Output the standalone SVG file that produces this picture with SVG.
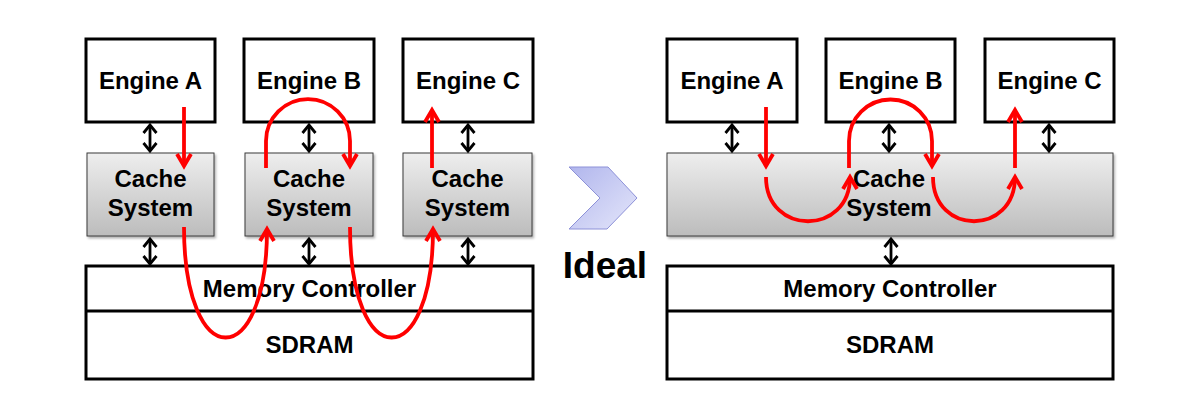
<svg xmlns="http://www.w3.org/2000/svg" width="1200" height="400" viewBox="0 0 1200 400">
<style>
.box{fill:#fff;stroke:#000;stroke-width:3}
.cache{fill:url(#cg);stroke:#3a3a3a;stroke-width:1;filter:url(#sh)}
.t{font-family:"Liberation Sans",Arial,sans-serif;font-weight:bold;font-size:24px;fill:#000;text-anchor:middle}
.bi{stroke:#000;stroke-width:2.8;fill:none;marker-start:url(#bk);marker-end:url(#bk)}
.red{stroke:#f00;stroke-width:3.8;fill:none;marker-end:url(#rd)}
</style>
<defs>
<linearGradient id="cg" x1="0" y1="0" x2="0" y2="1">
<stop offset="0" stop-color="#eeeeee"/>
<stop offset="1" stop-color="#bcbcbc"/>
</linearGradient>
<linearGradient id="chg" x1="0" y1="0" x2="1" y2="1">
<stop offset="0" stop-color="#b1b6ed"/>
<stop offset="1" stop-color="#e4e6fa"/>
</linearGradient>
<filter id="sh" x="-5%" y="-5%" width="115%" height="120%">
<feDropShadow dx="1.5" dy="2" stdDeviation="1.2" flood-color="#000" flood-opacity="0.3"/>
</filter>
<marker id="bk" markerUnits="userSpaceOnUse" orient="auto-start-reverse" markerWidth="20" markerHeight="20" viewBox="-10 -10 20 20" refX="0" refY="0" overflow="visible">
<path d="M-8,-6.5 L0,0 L-8,6.5" fill="none" stroke="#000" stroke-width="2.8"/>
</marker>
<marker id="rd" markerUnits="userSpaceOnUse" orient="auto" markerWidth="30" markerHeight="30" viewBox="-15 -15 30 30" refX="0" refY="0" overflow="visible">
<path d="M-12,-7 L0,0 L-12,7" fill="none" stroke="#f00" stroke-width="3.8"/>
</marker>
</defs>
<rect width="1200" height="400" fill="#fff"/>

<!-- Left side -->
<g id="L-engineA"><rect class="box" x="86" y="39" width="129" height="83"/><text class="t" x="150.5" y="89">Engine A</text></g>
<g id="L-engineB"><rect class="box" x="244" y="39" width="130" height="83"/><text class="t" x="309" y="89">Engine B</text></g>
<g id="L-engineC"><rect class="box" x="403" y="39" width="130" height="83"/><text class="t" x="468" y="89">Engine C</text></g>
<g id="L-cacheA"><rect class="cache" x="87" y="153" width="127" height="83"/><text class="t" x="150.5" y="187">Cache</text><text class="t" x="150.5" y="216">System</text></g>
<g id="L-cacheB"><rect class="cache" x="245" y="153" width="128" height="83"/><text class="t" x="309" y="187">Cache</text><text class="t" x="309" y="216">System</text></g>
<g id="L-cacheC"><rect class="cache" x="403" y="153" width="129" height="83"/><text class="t" x="467.5" y="187">Cache</text><text class="t" x="467.5" y="216">System</text></g>
<g id="L-memory"><rect class="box" x="86" y="266" width="447" height="113"/><line x1="86" y1="311" x2="533" y2="311" stroke="#000" stroke-width="3"/><text class="t" x="309.5" y="297">Memory Controller</text><text class="t" x="309.5" y="353">SDRAM</text></g>

<!-- Middle -->
<g id="ideal">
<polygon points="569,167 608,167 637,198 607,229 569,229 600,198" fill="url(#chg)" stroke="#8d91d8" stroke-width="1"/>
<text x="605" y="278" font-family="Liberation Sans, Arial, sans-serif" font-weight="bold" font-size="37" text-anchor="middle" fill="#000">Ideal</text>
</g>

<!-- Right side -->
<g id="R-engineA"><rect class="box" x="667" y="39" width="130" height="83"/><text class="t" x="732" y="89">Engine A</text></g>
<g id="R-engineB"><rect class="box" x="826" y="39" width="129" height="83"/><text class="t" x="890.5" y="89">Engine B</text></g>
<g id="R-engineC"><rect class="box" x="985" y="39" width="129" height="83"/><text class="t" x="1049.5" y="89">Engine C</text></g>
<g id="R-cache"><rect class="cache" x="667" y="153" width="446" height="83"/><text class="t" x="889" y="187">Cache</text><text class="t" x="889" y="216">System</text></g>
<g id="R-memory"><rect class="box" x="667" y="266" width="446" height="113"/><line x1="667" y1="311" x2="1113" y2="311" stroke="#000" stroke-width="3"/><text class="t" x="890" y="297">Memory Controller</text><text class="t" x="890" y="353">SDRAM</text></g>

<!-- Connectors -->
<g id="connectors">
<line class="bi" x1="150" y1="125" x2="150" y2="151"/>
<line class="bi" x1="309" y1="125" x2="309" y2="151"/>
<line class="bi" x1="468" y1="125" x2="468" y2="151"/>
<line class="bi" x1="150" y1="239" x2="150" y2="264"/>
<line class="bi" x1="309" y1="239" x2="309" y2="264"/>
<line class="bi" x1="468" y1="239" x2="468" y2="264"/>
<line class="bi" x1="732" y1="125" x2="732" y2="151"/>
<line class="bi" x1="889" y1="125" x2="889" y2="151"/>
<line class="bi" x1="1049" y1="125" x2="1049" y2="151"/>
<line class="bi" x1="891" y1="239" x2="891" y2="264"/>

<path class="red" d="M184,107 L184,166"/>
<path class="red" d="M266,168 L266,141 A42,42 0 0 1 350,141 L350,166"/>
<path class="red" d="M432,168 L432,110"/>
<path class="red" d="M184,227 C184,374 267,374 267,229"/>
<path class="red" d="M350,227 C350,374 433,374 433,229"/>

<path class="red" d="M766,107 L766,166"/>
<path class="red" d="M766,177 C766,236 850,236 850,177"/>
<path class="red" d="M849,168 L849,141 A41.5,41.5 0 0 1 932,141 L932,166"/>
<path class="red" d="M933,177 C933,236 1015,236 1015,177"/>
<path class="red" d="M1015,168 L1015,110"/>
</g>
</svg>
